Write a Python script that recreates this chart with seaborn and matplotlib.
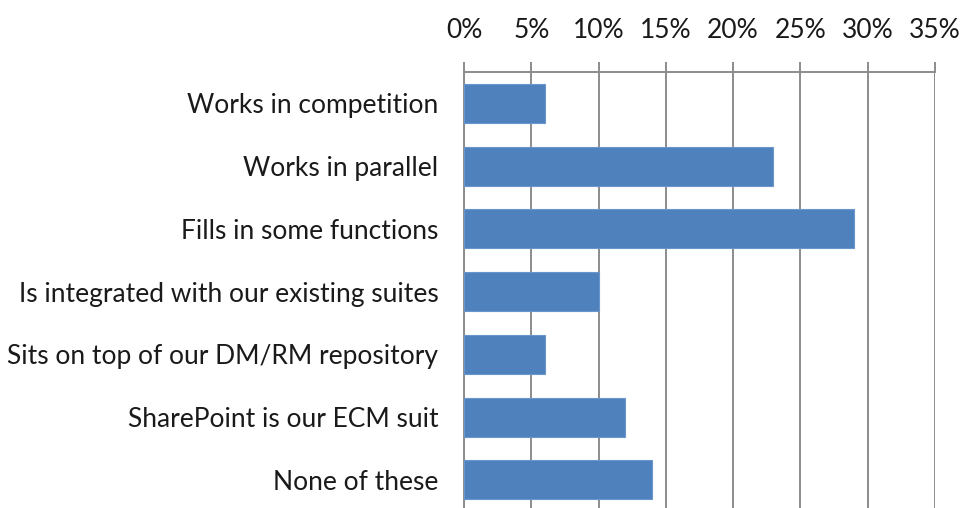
import pandas as pd
import matplotlib.pyplot as plt
import seaborn as sns
from matplotlib.ticker import PercentFormatter

categorias = ['Works in competition', 'Works in parallel', 'Fills in some functions',
              'Is integrated with our existing suites', 'Sits on top of our DM/RM repository',
              'SharePoint is our ECM suit', 'None of these']
valores = [6, 23, 29, 10, 6, 12, 14]
ticks_x = [0, 5, 10, 15, 20, 25, 30, 35]

df = pd.DataFrame({'categoria': categorias, 'valor': valores})

sns.set_style('white')
plt.rcParams['font.family'] = ['Lato', 'DejaVu Sans']

fig = plt.figure(figsize=(9.64, 5.08), dpi=100)
ax = fig.add_axes([0.4813, 0.0, 0.4886, 0.858])

sns.barplot(data=df, x='valor', y='categoria', color='#4f81bd', orient='h',
            width=0.62, saturation=1, edgecolor='#6a96cc', linewidth=0.8, ax=ax, zorder=3)

ax.set_xlim(0, 35)
ax.set_ylim(6.45, -0.5)
ax.set_xticks(ticks_x)
ax.xaxis.set_major_formatter(PercentFormatter(decimals=0))
ax.xaxis.tick_top()
ax.grid(axis='x', color='#8c8c8c', linewidth=1.4, zorder=0)
ax.tick_params(axis='x', top=True, length=7, width=1.4, colors='#8c8c8c',
               labelcolor='#1a1a1a', labelsize=19, pad=14)
ax.tick_params(axis='y', left=False, labelsize=19, pad=15, labelcolor='#1a1a1a')
ax.set_xlabel('')
ax.set_ylabel('')
for lado in ['right', 'bottom']:
    ax.spines[lado].set_visible(False)
for lado in ['top', 'left']:
    ax.spines[lado].set_color('#8c8c8c')
    ax.spines[lado].set_linewidth(1.4)

fig.savefig('out.png', dpi=100)
